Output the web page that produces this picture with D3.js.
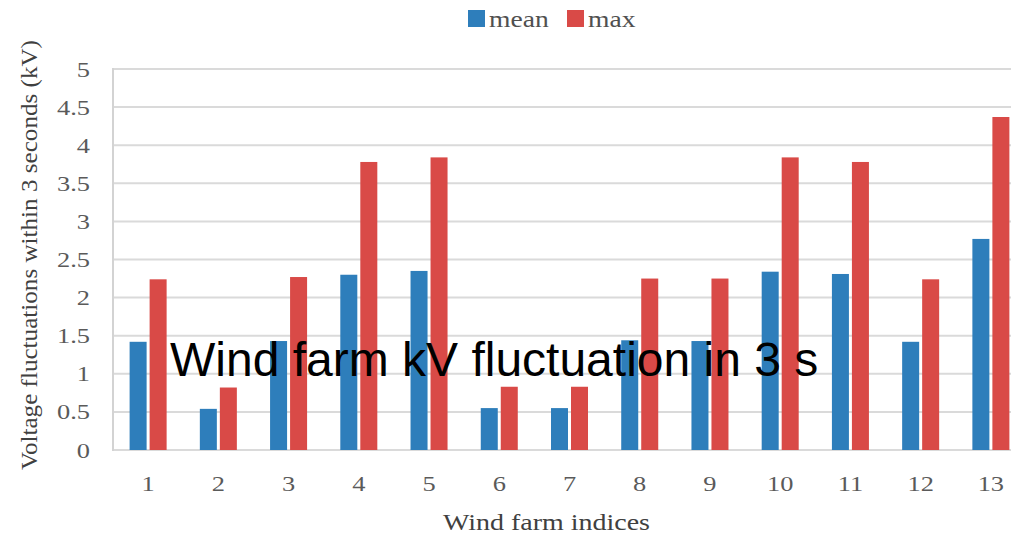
<!DOCTYPE html>
<html>
<head>
<meta charset="utf-8">
<script src="https://cdn.jsdelivr.net/npm/d3@7"></script>
<style>
  html, body { margin: 0; padding: 0; background: #fff; }
  svg { display: block; }
  .serif { font-family: "Liberation Serif", "Times New Roman", Times, serif; }
  .sans { font-family: "Liberation Sans", Arial, Helvetica, sans-serif; }
</style>
</head>
<body>
<svg id="chart" width="1011" height="536"></svg>
<script>
// ---- data ----
const categories = ["1","2","3","4","5","6","7","8","9","10","11","12","13"];
const seriesNames = ["mean", "max"];
const meanValues = [1.42, 0.54, 1.43, 2.30, 2.35, 0.55, 0.55, 1.44, 1.43, 2.34, 2.31, 1.42, 2.77];
const maxValues  = [2.24, 0.82, 2.27, 3.78, 3.84, 0.83, 0.83, 2.25, 2.25, 3.84, 3.78, 2.24, 4.37];
const yTicks = [0, 0.5, 1, 1.5, 2, 2.5, 3, 3.5, 4, 4.5, 5];
const yTickLabels = ["0","0.5","1","1.5","2","2.5","3","3.5","4","4.5","5"];
const colors = { mean: "#2e7ebb", max: "#d94a47" };

const svg = d3.select("#chart");
const plot = { left: 113, right: 1026, top: 69, bottom: 450 };
const STRETCH = 1.2;

const x0 = d3.scaleBand().domain(categories)
  .range([plot.left, plot.right]).paddingInner(0.473).paddingOuter(0.2365);
const x1 = d3.scaleBand().domain(seriesNames)
  .range([0, x0.bandwidth()]).paddingInner(0.15).paddingOuter(0);
const y = d3.scaleLinear().domain([0, 5]).range([plot.bottom, plot.top]);

// gridlines
svg.append("g").selectAll("line").data(yTicks).join("line")
  .attr("x1", plot.left).attr("x2", plot.right)
  .attr("y1", d => y(d)).attr("y2", d => y(d))
  .attr("stroke", "#dadada").attr("stroke-width", 2);

// left axis line
svg.append("line")
  .attr("x1", plot.left).attr("x2", plot.left)
  .attr("y1", y(5) - 1).attr("y2", y(0) + 1)
  .attr("stroke", "#d3d3d3").attr("stroke-width", 2);

// y tick labels
svg.append("g").selectAll("text").data(yTicks).join("text")
  .attr("class", "serif stretch")
  .attr("x", 90).attr("y", d => y(d) + 7.5)
  .attr("text-anchor", "end")
  .attr("font-size", 22)
  .attr("fill", "#5a5a5a")
  .text((d, i) => yTickLabels[i]);

// bars
const rows = categories.map((c, i) => ({ cat: c, mean: meanValues[i], max: maxValues[i] }));
const groups = svg.append("g").selectAll("g").data(rows).join("g")
  .attr("transform", d => `translate(${x0(d.cat)},0)`);
groups.selectAll("rect")
  .data(d => seriesNames.map(k => ({ key: k, value: d[k] })))
  .join("rect")
  .attr("x", d => x1(d.key))
  .attr("width", x1.bandwidth())
  .attr("y", d => y(d.value))
  .attr("height", d => y(0) - y(d.value))
  .attr("fill", d => colors[d.key]);

// x tick labels
svg.append("g").selectAll("text").data(categories).join("text")
  .attr("class", "serif stretch")
  .attr("x", d => x0(d) + x0.bandwidth() / 2)
  .attr("y", 491)
  .attr("text-anchor", "middle")
  .attr("font-size", 22)
  .attr("fill", "#5a5a5a")
  .text(d => d);

// axis titles
svg.append("text")
  .attr("class", "serif")
  .attr("x", 443).attr("y", 530)
  .attr("font-size", 23)
  .attr("fill", "#404040")
  .attr("textLength", 207).attr("lengthAdjust", "spacingAndGlyphs")
  .text("Wind farm indices");

svg.append("text")
  .attr("class", "serif")
  .attr("transform", "translate(37,470) rotate(-90)")
  .attr("font-size", 23)
  .attr("fill", "#404040")
  .attr("textLength", 430).attr("lengthAdjust", "spacingAndGlyphs")
  .text("Voltage fluctuations within 3 seconds (kV)");

// legend
const legendX = [468, 567];
const legend = svg.append("g").selectAll("g").data(seriesNames).join("g")
  .attr("transform", (d, i) => `translate(${legendX[i]},10)`);
legend.append("rect")
  .attr("width", 17).attr("height", 17)
  .attr("fill", d => colors[d]);
legend.append("text")
  .attr("class", "serif stretch")
  .attr("x", 21).attr("y", 17)
  .attr("font-size", 23)
  .attr("fill", "#505050")
  .text(d => d);

// horizontal stretch for serif labels
svg.selectAll("text.stretch").each(function () {
  const len = this.getComputedTextLength();
  d3.select(this).attr("textLength", len * STRETCH).attr("lengthAdjust", "spacingAndGlyphs");
});

// overlay title
svg.append("text")
  .attr("class", "sans")
  .attr("x", 170).attr("y", 376)
  .attr("font-size", 48)
  .attr("fill", "#000")
  .text("Wind farm kV fluctuation in 3 s");
</script>
</body>
</html>
